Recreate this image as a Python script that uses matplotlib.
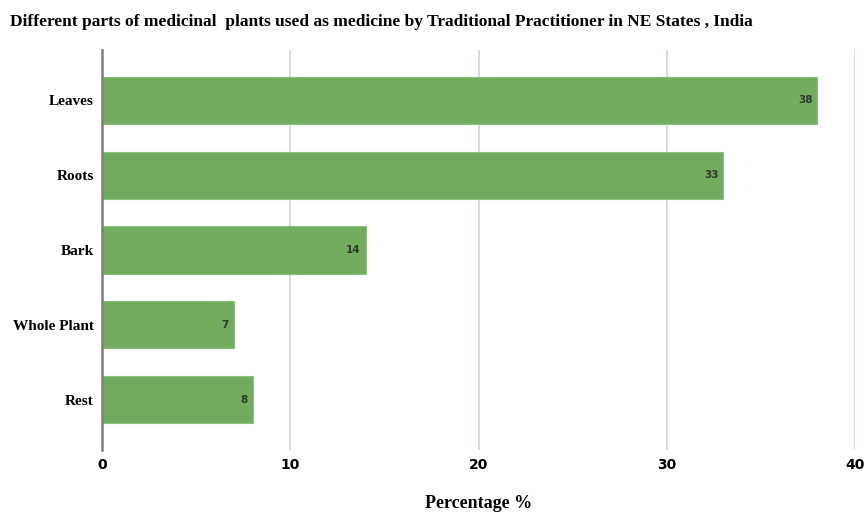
import matplotlib.pyplot as plt

categories = ['Leaves', 'Roots', 'Bark', 'Whole Plant', 'Rest']
values = [38, 33, 14, 7, 8]
x_ticks = [0, 10, 20, 30, 40]

fig = plt.figure(figsize=(8.66, 5.16), dpi=100)
ax = fig.add_axes([0.1178, 0.128, 0.8695, 0.775])

pos = list(range(len(categories)))
ax.barh(pos, values, height=0.63, color='#72ad5f', edgecolor='#8cc07a', linewidth=0.8, zorder=3)

# value labels just inside the bar ends
for p, v in zip(pos, values):
    ax.text(v - 0.25, p, str(v), ha='right', va='center', fontsize=7.5,
            fontweight='bold', color='#2f3a2a', family='DejaVu Sans', zorder=4)

ax.set_ylim(len(categories) - 0.33, -0.67)
ax.set_xlim(0, 40)
ax.set_xticks(x_ticks)
ax.set_xticklabels([str(t) for t in x_ticks], family='DejaVu Sans', fontweight='bold', fontsize=10)
ax.set_yticks(pos)
ax.set_yticklabels(categories, family='Liberation Serif', fontweight='bold', fontsize=11)
ax.tick_params(length=0, pad=6)
ax.tick_params(axis='x', pad=6)

ax.grid(axis='x', color='#c8d6ee', linewidth=1.2, zorder=0)
for s in ['top', 'right', 'bottom']:
    ax.spines[s].set_visible(False)
ax.spines['left'].set_color('#7f7f7f')
ax.spines['left'].set_linewidth(1.8)
ax.spines['left'].set_zorder(5)

ax.set_xlabel('Percentage %', family='Liberation Serif', fontweight='bold', fontsize=13, labelpad=16)

fig.text(0.012, 0.957, 'Different parts of medicinal  plants used as medicine by Traditional Practitioner in NE States , India',
         family='Liberation Serif', fontweight='bold', fontsize=12.5, ha='left', va='center')

fig.savefig('out.png', dpi=100)
